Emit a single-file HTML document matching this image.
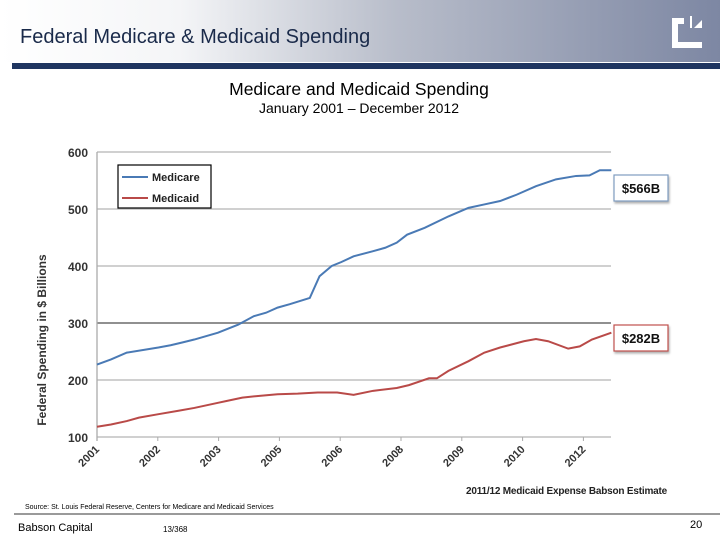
<!DOCTYPE html>
<html><head><meta charset="utf-8">
<style>
body{margin:0;width:720px;height:540px;overflow:hidden;background:#fff;font-family:"Liberation Sans",sans-serif;position:relative}
.hdr{position:absolute;left:0;top:0;width:720px;height:62px;background:linear-gradient(90deg,#fff 0%,#f4f5f7 25%,#b8bdca 55%,#7d87a3 100%)}
.bar{position:absolute;left:12px;top:63px;width:708px;height:6px;background:#1f3560}
.t{position:absolute;white-space:nowrap}
</style></head><body>
<div class="hdr"></div>
<div class="bar"></div>
<div class="t" style="left:20px;top:26px;font-size:20px;color:#1a2a4a">Federal Medicare &amp; Medicaid Spending</div>
<svg style="position:absolute;left:670px;top:14px" width="36" height="34"><path d="M2 4h12v6H8v18h24v-14h-8l8-8v28H2z" fill="#fff"/><path d="M20 2l2 0 0 12h-2z" fill="#fff"/></svg>
<div class="t" style="left:0;width:718px;text-align:center;top:79px;font-size:17.5px;color:#000">Medicare and Medicaid Spending</div>
<div class="t" style="left:0;width:718px;text-align:center;top:100px;font-size:14px;color:#000">January 2001 – December 2012</div>
<svg id="chart" style="position:absolute;left:0;top:0" width="720" height="540"></svg>
<div class="t" style="left:466px;top:486px;font-size:10px;font-weight:bold;color:#222;letter-spacing:-0.2px">2011/12 Medicaid Expense Babson Estimate</div>
<div class="t" style="left:25px;top:504px;font-size:7px;color:#000">Source: St. Louis Federal Reserve, Centers for Medicare and Medicaid Services</div>
<div style="position:absolute;left:14px;top:513px;width:706px;height:2px;background:#9a9a9a"></div>
<div class="t" style="left:18px;top:522px;font-size:11px;color:#000">Babson Capital</div>
<div class="t" style="left:163px;top:525px;font-size:8px;color:#000">13/368</div>
<div class="t" style="left:690px;top:519px;font-size:11px;color:#000">20</div>
<script>
const yTicks=[100,200,300,400,500,600];
const xLabels=["2001","2002","2003","2005","2006","2008","2009","2010","2012"];
const medicareT=[0,0.23,0.49,1.01,1.21,1.41,1.60,1.99,2.32,2.58,2.78,2.97,3.17,3.50,3.66,3.86,4.02,4.22,4.54,4.74,4.93,5.10,5.39,5.78,6.11,6.37,6.63,6.90,7.22,7.55,7.88,8.10,8.27,8.46];
const medicareV=[227,236,248,257,261,266,271,283,297,312,318,327,333,344,382,400,407,417,426,432,441,455,467,487,502,508,514,525,540,552,558,559,568,568];
const medicaidT=[0,0.23,0.49,0.69,1.01,1.34,1.60,1.99,2.12,2.39,2.65,2.97,3.30,3.63,3.95,4.22,4.54,4.93,5.13,5.46,5.59,5.78,6.11,6.37,6.63,7.02,7.22,7.42,7.75,7.94,8.14,8.46];
const medicaidV=[118,122,128,134,140,146,151,160,163,169,172,175,176,178,178,174,181,186,191,203,203,216,233,248,257,268,272,268,255,259,271,283];
const X0=97,DX=60.8,Y0=437,YS=(437-152)/500;
const xs=t=>X0+t*DX, ys=v=>Y0-(v-100)*YS;
const svg=document.getElementById('chart'),NS='http://www.w3.org/2000/svg';
function mk(tag,at,txt){const e=document.createElementNS(NS,tag);for(const k in at)e.setAttribute(k,at[k]);if(txt!=null)e.textContent=txt;svg.appendChild(e);return e;}
yTicks.forEach(v=>{
 const g=mk('line',{x1:X0,x2:611,y1:ys(v),y2:ys(v),stroke:v===300?'#909090':'#b5b5b5','stroke-width':v===300?2:1.3});
 
 
 const l=mk('text',{x:88,y:ys(v)+5,'text-anchor':'end','font-size':12,'font-weight':'bold',fill:'#333','font-family':'Liberation Sans, sans-serif'},v);
 
 
});
const ax=mk('line',{x1:X0,x2:X0,y1:152,y2:441,stroke:'#aaa','stroke-width':1.3});


xLabels.forEach((s,i)=>{
 const x=xs(i);
 const tk=mk('line',{x1:x,x2:x,y1:437,y2:441,stroke:'#aaa'});
 
 
 const l=mk('text',{x:x+3,y:450,'text-anchor':'end','font-size':11,'font-weight':'bold',fill:'#333','font-family':'Liberation Sans, sans-serif',transform:`rotate(-45 ${x+3} 450)`},s);
 
 
});
const yt=mk('text',{x:46,y:340,'text-anchor':'middle','font-size':12,'font-weight':'bold',fill:'#333','font-family':'Liberation Sans, sans-serif',transform:'rotate(-90 46 340)'},'Federal Spending in $ Billions');


function line(T,V,c,n){const p=mk('polyline',{points:T.map((t,i)=>xs(t)+','+ys(V[i])).join(' '),fill:'none',stroke:c,'stroke-width':2});
 
 }
line(medicareT,medicareV,'#4a7ab5','medicare-line');
line(medicaidT,medicaidV,'#b94a48','medicaid-line');
const lg=mk('rect',{x:118,y:165,width:93,height:43,fill:'#fff',stroke:'#000','stroke-width':1.2});


[['Medicare','#4a7ab5',177],['Medicaid','#b94a48',198]].forEach(([n,c,y])=>{
 const a=mk('line',{x1:122,x2:148,y1:y,y2:y,stroke:c,'stroke-width':2});
 
 
 const b=mk('text',{x:152,y:y+4,'font-size':11,'font-weight':'bold',fill:'#222','font-family':'Liberation Sans, sans-serif'},n);
 
 
});
[['$566B','#7f9cc0',175],['$282B','#c0504d',325]].forEach(([s,c,y])=>{
 const r=mk('rect',{x:614,y:y,width:54,height:26,fill:'#fff',stroke:c,'stroke-width':1.2,style:'filter:drop-shadow(1px 2px 1px rgba(0,0,0,0.3))'});
 
 
 const t=mk('text',{x:641,y:y+18,'text-anchor':'middle','font-size':13,'font-weight':'bold',fill:'#111','font-family':'Liberation Sans, sans-serif'},s);
 
 
});
</script>
</body></html>
